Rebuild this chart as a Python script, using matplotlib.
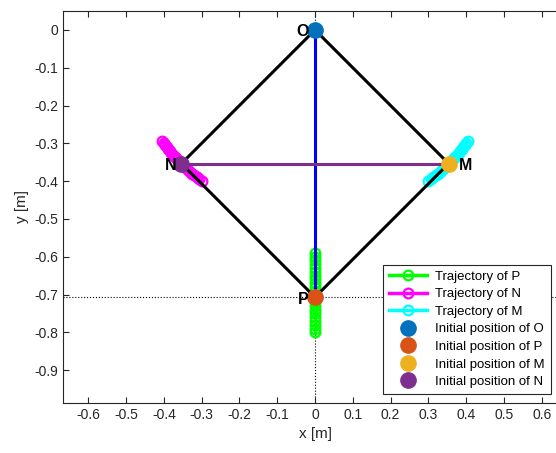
import matplotlib.pyplot as plt

plt.rcParams['font.family'] = ['Liberation Sans', 'DejaVu Sans']

# initial positions
O_pos = [0.0, 0.0]
P_pos = [0.0, -0.7071]
M_pos = [0.3536, -0.3536]
N_pos = [-0.3536, -0.3536]

# trajectories
traj_P_y = [-0.59, -0.60, -0.61, -0.62, -0.63, -0.64, -0.65, -0.66, -0.67, -0.68, -0.69,
            -0.70, -0.71, -0.72, -0.73, -0.74, -0.75, -0.76, -0.77, -0.78, -0.79, -0.80]
traj_P_x = [0.0] * len(traj_P_y)
traj_N_x = [-0.4037, -0.4000, -0.3962, -0.3923, -0.3883, -0.3842, -0.3800, -0.3756,
            -0.3712, -0.3666, -0.3619, -0.3571, -0.3521, -0.3470, -0.3417, -0.3363,
            -0.3307, -0.3250, -0.3190, -0.3129, -0.3066, -0.3000]
traj_N_y = [-0.295, -0.300, -0.305, -0.310, -0.315, -0.320, -0.325, -0.330, -0.335,
            -0.340, -0.345, -0.350, -0.355, -0.360, -0.365, -0.370, -0.375, -0.380,
            -0.385, -0.390, -0.395, -0.400]
traj_M_x = [0.4037, 0.4000, 0.3962, 0.3923, 0.3883, 0.3842, 0.3800, 0.3756,
            0.3712, 0.3666, 0.3619, 0.3571, 0.3521, 0.3470, 0.3417, 0.3363,
            0.3307, 0.3250, 0.3190, 0.3129, 0.3066, 0.3000]
traj_M_y = [-0.295, -0.300, -0.305, -0.310, -0.315, -0.320, -0.325, -0.330, -0.335,
            -0.340, -0.345, -0.350, -0.355, -0.360, -0.365, -0.370, -0.375, -0.380,
            -0.385, -0.390, -0.395, -0.400]

xticks = [-0.6, -0.5, -0.4, -0.3, -0.2, -0.1, 0, 0.1, 0.2, 0.3, 0.4, 0.5, 0.6]
yticks = [0, -0.1, -0.2, -0.3, -0.4, -0.5, -0.6, -0.7, -0.8, -0.9]

fig = plt.figure(figsize=(5.56, 4.53), dpi=100)
ax = fig.add_axes([0.1133, 0.1104, 0.9065, 0.8653])

# dotted guide lines through P
ax.axhline(P_pos[1], color='k', linestyle=':', linewidth=0.8, zorder=1)
ax.axvline(P_pos[0], color='k', linestyle=':', linewidth=0.8, zorder=1)

traj_style = dict(linewidth=2.5, markersize=7, markerfacecolor='none',
                  markeredgewidth=1.6, zorder=2)
ax.plot(traj_P_x, traj_P_y, '-o', color='#00FF00', label='Trajectory of P', **traj_style)
ax.plot(traj_N_x, traj_N_y, '-o', color='#FF00FF', label='Trajectory of N', **traj_style)
ax.plot(traj_M_x, traj_M_y, '-o', color='#00FFFF', label='Trajectory of M', **traj_style)

# rhombus O-N-P-M
ax.plot([O_pos[0], N_pos[0], P_pos[0], M_pos[0], O_pos[0]],
        [O_pos[1], N_pos[1], P_pos[1], M_pos[1], O_pos[1]],
        color='k', linewidth=2.2, zorder=3)
ax.plot([O_pos[0], P_pos[0]], [O_pos[1], P_pos[1]], color='b', linewidth=2.2, zorder=3)
ax.plot([N_pos[0], M_pos[0]], [N_pos[1], M_pos[1]], color='#7E2F8E', linewidth=2.2, zorder=3)

ax.plot(*O_pos, 'o', color='#0072BD', markersize=11, label='Initial position of O', zorder=4)
ax.plot(*P_pos, 'o', color='#D95319', markersize=11, label='Initial position of P', zorder=4)
ax.plot(*M_pos, 'o', color='#EDB120', markersize=11, label='Initial position of M', zorder=4)
ax.plot(*N_pos, 'o', color='#7E2F8E', markersize=11, label='Initial position of N', zorder=4)

lbl = dict(fontsize=11.5, fontweight='bold', va='center', zorder=5)
ax.text(O_pos[0] - 0.016, O_pos[1] - 0.005, 'O', ha='right', **lbl)
ax.text(N_pos[0] - 0.012, N_pos[1] - 0.005, 'N', ha='right', **lbl)
ax.text(M_pos[0] + 0.028, M_pos[1] - 0.005, 'M', ha='left', **lbl)
ax.text(P_pos[0] - 0.018, P_pos[1] - 0.005, 'P', ha='right', **lbl)

ax.set_xlim(-0.667, 0.667)
ax.set_ylim(-0.987, 0.05)
ax.set_xticks(xticks)
ax.set_yticks(yticks)
ax.set_xticklabels([f'{v:g}' for v in xticks])
ax.set_yticklabels([f'{v:g}' for v in yticks])
ax.tick_params(direction='in', top=True, right=True, length=4, labelsize=10, colors='#262626')
for s in ax.spines.values():
    s.set_color('#262626')
ax.set_xlabel('x [m]', fontsize=11, color='#262626')
ax.set_ylabel('y [m]', fontsize=11, color='#262626')

leg = ax.legend(loc='lower right', bbox_to_anchor=(0.968, 0.023), borderaxespad=0,
                fontsize=9.5, handlelength=2.9, labelspacing=0.4, borderpad=0.45,
                handletextpad=0.6, fancybox=False, framealpha=1, edgecolor='#262626')
leg.get_frame().set_linewidth(0.8)

fig.savefig('out.png', dpi=100)
